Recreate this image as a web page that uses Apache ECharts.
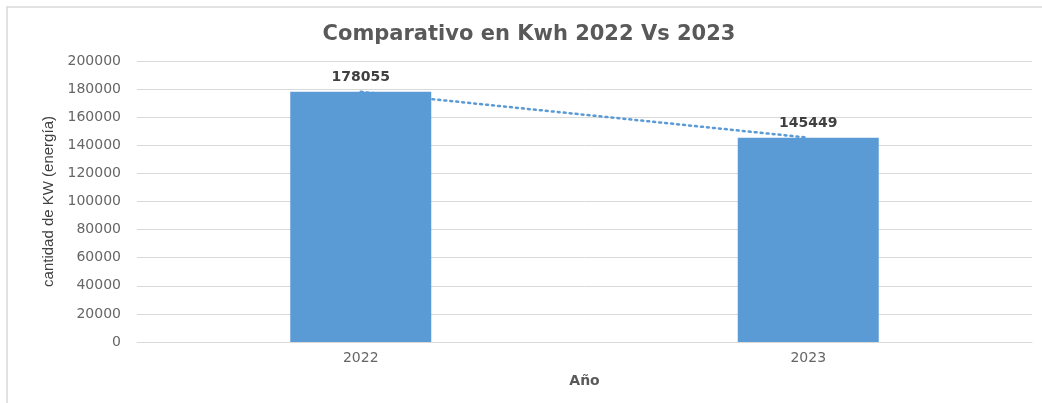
<!DOCTYPE html>
<html lang="es">
  <head>
    <meta charset="UTF-8" />
    <title>Comparativo en Kwh 2022 Vs 2023</title>
    <script src="https://cdn.jsdelivr.net/npm/echarts@6/dist/echarts.min.js"></script>
    <style>
      html, body { margin: 0; padding: 0; background: #fff; }
      #main { width: 1042px; height: 403px; }
    </style>
  </head>
  <body>
    <div id="main"></div>
    <script>
      const years = ["2022", "2023"];
      const kwh = [178055, 145449];
      // linea de tendencia (lineal entre los dos puntos)
      const trend = [178055, 145449];
      const yTicks = { min: 0, max: 200000, step: 20000 };

      const chart = echarts.init(document.getElementById("main"));
      const font = "DejaVu Sans";

      const option = {
        animation: false,
        textStyle: { fontFamily: font },
        graphic: [
          {
            type: "rect",
            shape: { x: 7, y: 7, width: 1200, height: 600 },
            style: { fill: "none", stroke: "#d9d9d9", lineWidth: 1.5 },
            silent: true,
          },
        ],
        title: {
          text: "Comparativo en Kwh 2022 Vs 2023",
          left: 524,
          top: 19,
          textAlign: "center",
          textStyle: { fontFamily: font, fontSize: 21, fontWeight: "bold", color: "#595959" },
        },
        grid: { left: 137, right: 10, top: 61, bottom: 61, containLabel: false },
        xAxis: {
          type: "category",
          data: years,
          name: "Año",
          nameLocation: "middle",
          nameGap: 32,
          nameTextStyle: { fontFamily: font, fontSize: 14, fontWeight: "bold", color: "#595959" },
          axisLine: { lineStyle: { color: "#d9d9d9", width: 1 } },
          axisTick: { show: false },
          axisLabel: { margin: 9, fontFamily: font, fontSize: 14, color: "#666" },
          splitLine: { show: false },
        },
        yAxis: {
          type: "value",
          min: yTicks.min,
          max: yTicks.max,
          interval: yTicks.step,
          name: "cantidad de KW (energía)",
          nameLocation: "middle",
          nameGap: 81,
          nameTextStyle: { fontFamily: "Liberation Sans", fontSize: 15, color: "#404040" },
          axisLine: { show: false },
          axisTick: { show: false },
          axisLabel: {
            margin: 16,
            fontFamily: font,
            fontSize: 14,
            color: "#666",
            formatter: (v) => String(v),
          },
          splitLine: { lineStyle: { color: "#d9d9d9", width: 1 } },
        },
        series: [
          {
            type: "bar",
            data: kwh,
            barWidth: 141,
            itemStyle: { color: "#5b9bd5" },
            label: {
              show: true,
              position: "top",
              distance: 7,
              fontFamily: font,
              fontSize: 14,
              fontWeight: "bold",
              color: "#404040",
            },
          },
          {
            type: "line",
            data: trend,
            symbol: "none",
            z: 3,
            lineStyle: { type: [2, 4], cap: "round", color: "#5b9bd5", width: 2.5 },
          },
        ],
      };

      chart.setOption(option);
    </script>
  </body>
</html>
